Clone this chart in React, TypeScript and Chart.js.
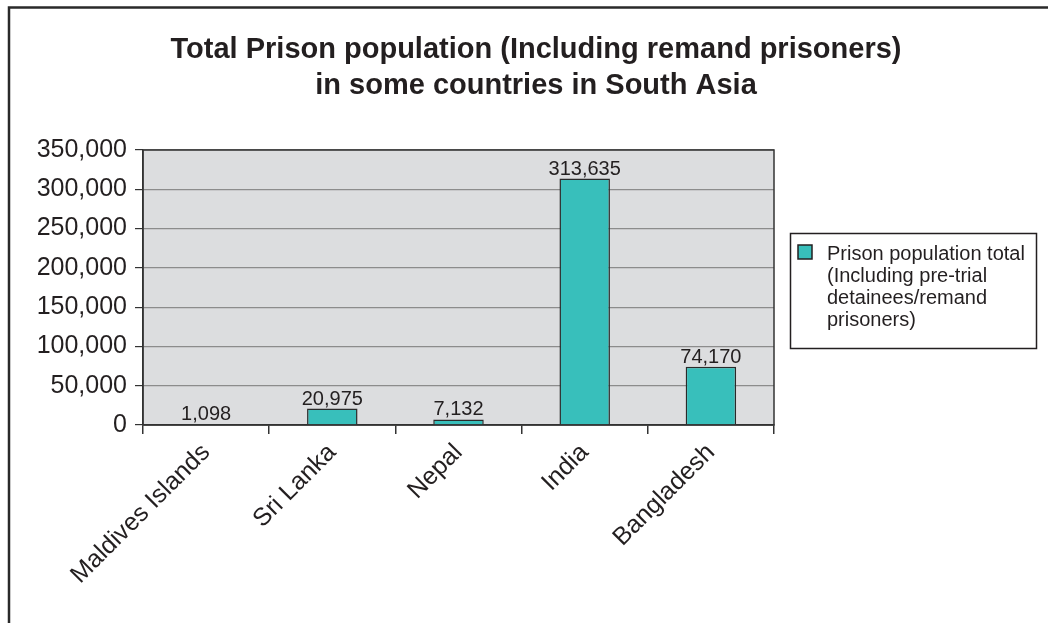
import React, { useEffect, useRef } from "react";
import { Chart, registerables } from "chart.js";

Chart.register(...registerables);

const categories = ["Maldives Islands", "Sri Lanka", "Nepal", "India", "Bangladesh"];
const prisonTotals = [1098, 20975, 7132, 313635, 74170];
const titleLines = [
  "Total Prison population (Including remand prisoners)",
  "in some countries in South Asia",
];
const legendLines = [
  "Prison population total",
  "(Including pre-trial",
  "detainees/remand",
  "prisoners)",
];
const yMax = 350000;
const yStep = 50000;

const FONT = "'Liberation Sans', Arial, Helvetica, sans-serif";
const INK = "#231f20";
const TEAL = "#38bfbb";
const PLOT_BG = "#dcdddf";

const fmt = (v: number) => Math.round(v).toLocaleString("en-US");

const decorPlugin = {
  id: "decor",
  beforeDraw(chart: any) {
    const { ctx, width, height, chartArea } = chart;
    ctx.save();
    ctx.fillStyle = "#ffffff";
    ctx.fillRect(0, 0, width, height);
    // outer frame (top + left visible)
    ctx.strokeStyle = "#2a2a2a";
    ctx.lineWidth = 2.5;
    ctx.beginPath();
    ctx.moveTo(9, height);
    ctx.lineTo(9, 7.5);
    ctx.lineTo(width, 7.5);
    ctx.stroke();
    // plot background
    ctx.fillStyle = PLOT_BG;
    ctx.fillRect(chartArea.left, chartArea.top, chartArea.right - chartArea.left, chartArea.bottom - chartArea.top);
    ctx.restore();
  },
  afterDatasetsDraw(chart: any) {
    const { ctx } = chart;
    const meta = chart.getDatasetMeta(0);
    ctx.save();
    ctx.fillStyle = INK;
    ctx.font = `20px ${FONT}`;
    ctx.textAlign = "center";
    ctx.textBaseline = "alphabetic";
    meta.data.forEach((bar: any, i: number) => {
      ctx.fillText(fmt(prisonTotals[i]), bar.x, bar.y - 4);
    });
    ctx.restore();
  },
  afterDraw(chart: any) {
    const { ctx, chartArea } = chart;
    ctx.save();
    // plot border
    ctx.strokeStyle = "#333333";
    ctx.lineWidth = 1.5;
    ctx.strokeRect(chartArea.left, chartArea.top, chartArea.right - chartArea.left, chartArea.bottom - chartArea.top);
    // title
    ctx.fillStyle = INK;
    ctx.font = `bold 29px ${FONT}`;
    ctx.textAlign = "center";
    ctx.textBaseline = "alphabetic";
    ctx.fillText(titleLines[0], 536, 58);
    ctx.fillText(titleLines[1], 536, 94);
    // legend
    ctx.strokeStyle = "#231f20";
    ctx.lineWidth = 1.5;
    ctx.strokeRect(790.5, 233.5, 246, 115);
    ctx.fillStyle = TEAL;
    ctx.fillRect(798, 245, 14, 14);
    ctx.strokeRect(798, 245, 14, 14);
    ctx.fillStyle = INK;
    ctx.font = `20px ${FONT}`;
    ctx.textAlign = "left";
    legendLines.forEach((line, i) => {
      ctx.fillText(line, 827, 260 + i * 22);
    });
    ctx.restore();
  },
};

export default function App() {
  const canvasRef = useRef<HTMLCanvasElement | null>(null);

  useEffect(() => {
    document.body.style.margin = "0";
    const canvas = canvasRef.current;
    if (!canvas) return;
    Chart.defaults.font.family = FONT;
    Chart.defaults.color = INK;
    const chart = new Chart(canvas, {
      type: "bar",
      data: {
        labels: categories,
        datasets: [
          {
            label: legendLines.join(" "),
            data: prisonTotals,
            backgroundColor: TEAL,
            borderColor: "#2a2a2a",
            borderWidth: 1.5,
            categoryPercentage: 1,
            barPercentage: 0.4,
          },
        ],
      },
      options: {
        responsive: false,
        animation: false,
        devicePixelRatio: 1,
        layout: { padding: { top: 150, right: 274, bottom: 0, left: 0 } },
        plugins: {
          legend: { display: false },
          title: { display: false },
          tooltip: { enabled: false },
        },
        scales: {
          x: {
            offset: true,
            grid: {
              display: true,
              offset: true,
              drawOnChartArea: false,
              drawTicks: true,
              tickLength: 9,
              tickColor: "#333333",
              lineWidth: 1.5,
            },
            border: { display: true, color: "#333333", width: 1.5 },
            ticks: {
              autoSkip: false,
              maxRotation: 45,
              minRotation: 45,
              padding: 4,
              color: INK,
              font: { size: 25, family: FONT },
            },
            afterFit: (scale: any) => {
              scale.height = 198;
            },
          },
          y: {
            min: 0,
            max: yMax,
            grid: {
              color: "#8c8c8c",
              lineWidth: 1.2,
              drawTicks: true,
              tickLength: 8,
              tickColor: "#333333",
            },
            border: { display: true, color: "#333333", width: 1.5 },
            ticks: {
              stepSize: yStep,
              padding: 8,
              color: INK,
              font: { size: 25, family: FONT },
              callback: (v: any) => fmt(Number(v)),
            },
            afterFit: (scale: any) => {
              scale.width = 143;
            },
          },
        },
      },
      plugins: [decorPlugin],
    });
    return () => chart.destroy();
  }, []);

  return (
    <div style={{ width: 1048, height: 623, position: "relative" }}>
      <canvas ref={canvasRef} width={1048} height={623} style={{ display: "block" }} />
    </div>
  );
}
